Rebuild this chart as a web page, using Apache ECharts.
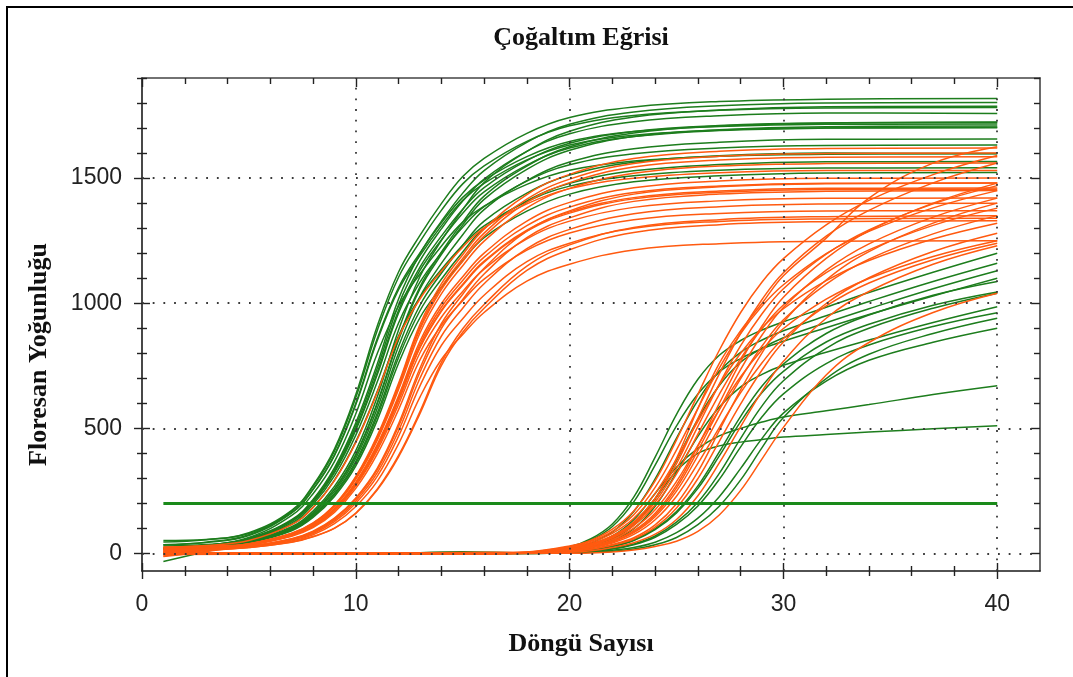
<!DOCTYPE html>
<html>
<head>
<meta charset="utf-8">
<title>Çoğaltım Eğrisi</title>
<script src="https://cdn.jsdelivr.net/npm/echarts@6/dist/echarts.min.js"></script>
<style>
  html, body { margin: 0; padding: 0; background: #fff; }
  #chart { width: 1073px; height: 677px; }
</style>
</head>
<body>
<div id="chart"></div>
<script>
// Cycle numbers at which each amplification curve is sampled
const EARLY_CYCLES = [1, 3, 5, 7, 8, 9, 10, 11, 12, 13, 14, 15, 16, 18, 20, 23, 27, 32, 40];
const LATE_CYCLES = [1, 6, 11, 15, 18, 20, 21, 22, 23, 24, 25, 26, 27, 28, 29, 30, 32, 34, 37, 40];

// Early-rising wells, green channel
const EARLY_GREEN = [
  [52, 56, 83, 172, 272, 417, 635, 908, 1125, 1271, 1398, 1506, 1579, 1679, 1742, 1784, 1806, 1815, 1818],
  [22, 32, 61, 135, 216, 342, 522, 756, 1017, 1197, 1327, 1440, 1530, 1643, 1715, 1764, 1789, 1800, 1802],
  [35, 45, 75, 169, 267, 409, 623, 890, 1104, 1246, 1371, 1477, 1549, 1647, 1709, 1750, 1771, 1780, 1782],
  [21, 32, 60, 132, 211, 334, 510, 739, 994, 1170, 1297, 1408, 1496, 1607, 1677, 1725, 1749, 1760, 1758],
  [-32, 8, 48, 129, 206, 327, 499, 722, 972, 1144, 1268, 1376, 1462, 1570, 1639, 1686, 1710, 1720, 1722],
  [46, 55, 80, 163, 257, 394, 600, 858, 1063, 1201, 1321, 1423, 1492, 1586, 1646, 1686, 1706, 1715, 1716],
  [19, 27, 48, 102, 162, 256, 392, 597, 853, 1057, 1194, 1313, 1415, 1535, 1611, 1666, 1693, 1705, 1708],
  [20, 31, 58, 128, 204, 323, 493, 714, 961, 1131, 1253, 1360, 1445, 1552, 1620, 1666, 1690, 1700, 1703],
  [18, 26, 46, 99, 157, 248, 381, 579, 828, 1026, 1159, 1274, 1374, 1490, 1564, 1617, 1643, 1655, 1656],
  [20, 29, 55, 122, 196, 310, 473, 685, 921, 1084, 1201, 1304, 1386, 1488, 1553, 1597, 1620, 1630, 1632],
  [30, 36, 50, 96, 152, 240, 368, 560, 800, 992, 1120, 1232, 1328, 1440, 1512, 1563, 1589, 1600, 1598],
  [19, 32, 64, 152, 239, 367, 558, 798, 989, 1117, 1228, 1324, 1388, 1475, 1531, 1568, 1587, 1595, 1597],
  [17, 25, 44, 94, 149, 235, 360, 548, 783, 970, 1096, 1205, 1299, 1409, 1479, 1529, 1554, 1565, 1566],
  [18, 28, 52, 116, 185, 293, 447, 647, 870, 1024, 1135, 1232, 1309, 1406, 1468, 1509, 1531, 1540, 1541],
  [17, 24, 43, 91, 144, 228, 350, 532, 760, 942, 1064, 1170, 1262, 1368, 1436, 1485, 1509, 1520, 1522],
  [19, 28, 48, 103, 163, 258, 396, 602, 860, 1066, 1204, 1324, 1428, 1548, 1625, 1680, 1708, 1720, 1724],
  [35, 44, 72, 162, 255, 391, 595, 850, 1054, 1190, 1309, 1411, 1479, 1573, 1632, 1671, 1692, 1700, 1701],
  [20, 29, 50, 107, 170, 268, 411, 625, 893, 1107, 1250, 1374, 1482, 1607, 1687, 1744, 1772, 1785, 1787]
];

// Early-rising wells, orange channel
const EARLY_ORANGE = [
  [5, 20, 39, 81, 122, 194, 308, 470, 680, 915, 1077, 1194, 1296, 1434, 1515, 1578, 1607, 1618, 1620],
  [20, 26, 38, 80, 120, 192, 304, 464, 672, 904, 1064, 1179, 1280, 1416, 1496, 1558, 1587, 1598, 1600],
  [-10, 14, 38, 79, 119, 190, 301, 460, 666, 896, 1054, 1168, 1268, 1403, 1482, 1544, 1572, 1583, 1585],
  [25, 30, 37, 78, 117, 187, 296, 452, 655, 881, 1037, 1150, 1248, 1381, 1459, 1519, 1548, 1558, 1560],
  [12, 21, 36, 75, 113, 180, 285, 435, 630, 848, 998, 1106, 1200, 1328, 1403, 1461, 1488, 1499, 1500],
  [-5, 14, 36, 74, 111, 178, 281, 429, 622, 836, 984, 1091, 1184, 1310, 1384, 1442, 1468, 1479, 1480],
  [8, 20, 35, 73, 110, 175, 277, 423, 613, 825, 971, 1076, 1168, 1292, 1365, 1422, 1448, 1459, 1460],
  [18, 20, 29, 58, 87, 138, 218, 334, 508, 725, 899, 1015, 1117, 1262, 1341, 1407, 1436, 1447, 1450],
  [0, 14, 34, 71, 107, 170, 270, 412, 596, 802, 944, 1047, 1136, 1257, 1328, 1383, 1409, 1419, 1420],
  [22, 22, 28, 56, 84, 133, 210, 322, 490, 700, 868, 980, 1078, 1218, 1295, 1358, 1386, 1397, 1400],
  [-12, 8, 33, 69, 103, 164, 260, 397, 575, 774, 911, 1010, 1096, 1212, 1281, 1334, 1359, 1369, 1370],
  [10, 16, 27, 54, 80, 127, 201, 308, 469, 670, 831, 938, 1032, 1166, 1240, 1300, 1327, 1337, 1340],
  [3, 12, 24, 45, 67, 100, 160, 253, 386, 559, 751, 884, 980, 1131, 1214, 1283, 1314, 1326, 1330],
  [15, 17, 25, 50, 75, 119, 188, 288, 438, 625, 775, 875, 963, 1088, 1156, 1213, 1238, 1248, 1250],
  [-2, 12, 30, 59, 89, 141, 222, 340, 518, 740, 918, 1036, 1140, 1288, 1369, 1436, 1465, 1477, 1480],
  [25, 32, 52, 115, 184, 291, 444, 643, 864, 1017, 1128, 1224, 1301, 1397, 1458, 1499, 1521, 1530, 1530],
  [6, 16, 35, 73, 109, 175, 276, 422, 611, 822, 968, 1072, 1164, 1288, 1360, 1417, 1443, 1454, 1455],
  [14, 16, 24, 46, 68, 101, 162, 257, 392, 567, 763, 898, 995, 1148, 1233, 1303, 1334, 1346, 1350]
];

// Late-rising wells, green channel
const LATE_GREEN = [
  [1, -2, 3, 0, 3, 27, 59, 118, 225, 385, 556, 696, 792, 851, 893, 926, 984, 1043, 1124, 1200],
  [-1, 2, 0, 1, 2, 17, 42, 86, 168, 298, 461, 612, 728, 804, 853, 890, 950, 1007, 1087, 1160],
  [2, 0, -2, 3, 1, 12, 26, 57, 114, 217, 372, 537, 671, 764, 820, 862, 922, 978, 1058, 1130],
  [0, 1, 2, -1, 3, 25, 54, 108, 206, 353, 510, 637, 725, 779, 818, 848, 902, 955, 1029, 1100],
  [-2, 0, 1, 2, 2, 7, 15, 28, 52, 95, 162, 260, 390, 527, 643, 728, 845, 916, 992, 1045],
  [1, 3, 0, -2, 1, 5, 10, 20, 38, 70, 125, 205, 320, 460, 590, 690, 820, 900, 980, 1040],
  [0, -1, 2, 1, 1, 5, 9, 18, 35, 65, 116, 190, 296, 426, 546, 638, 759, 833, 907, 962],
  [2, 0, -1, 0, 0, 3, 5, 9, 18, 35, 64, 115, 189, 294, 423, 543, 699, 796, 879, 940],
  [-1, 2, 1, 2, 0, 3, 6, 13, 24, 45, 83, 141, 227, 340, 460, 561, 689, 772, 844, 900],
  [0, 1, -1, 7, 2, 15, 35, 70, 135, 240, 345, 420, 470, 500, 525, 545, 570, 595, 635, 670],
  [1, -2, 2, 0, 2, 12, 28, 60, 120, 220, 330, 400, 430, 445, 455, 465, 475, 485, 498, 510],
  [0, 0, 2, 1, 2, 7, 16, 29, 54, 99, 168, 270, 406, 548, 669, 757, 879, 953, 1032, 1087],
  [-2, 1, 0, 1, 1, 11, 23, 50, 99, 189, 324, 468, 585, 666, 716, 752, 804, 853, 923, 986]
];

// Late-rising wells, orange channel
const LATE_ORANGE = [
  [2, -3, 1, 4, 5, 20, 38, 70, 125, 220, 380, 580, 760, 890, 1000, 1110, 1260, 1420, 1560, 1625],
  [-2, 1, 3, -1, 6, 30, 53, 97, 170, 290, 454, 636, 812, 963, 1085, 1178, 1313, 1411, 1514, 1590],
  [1, -2, 0, 2, 3, 20, 39, 70, 126, 219, 359, 539, 718, 881, 1015, 1122, 1268, 1371, 1481, 1560],
  [3, 0, -3, 1, 2, 13, 28, 50, 91, 161, 273, 429, 600, 767, 909, 1024, 1179, 1289, 1400, 1480],
  [-3, 2, 1, 0, 3, 19, 37, 66, 118, 206, 339, 508, 677, 831, 958, 1058, 1196, 1293, 1397, 1470],
  [0, -1, 2, -2, 5, 27, 49, 88, 155, 264, 414, 580, 741, 879, 989, 1074, 1198, 1287, 1381, 1450],
  [4, 1, -1, 2, 2, 12, 27, 48, 87, 154, 262, 412, 576, 736, 873, 983, 1132, 1237, 1344, 1420],
  [-1, 3, 0, 1, 1, 8, 18, 36, 63, 114, 199, 327, 491, 654, 802, 925, 1093, 1206, 1320, 1400],
  [2, 0, 2, -3, 3, 18, 35, 62, 111, 194, 318, 477, 636, 779, 899, 993, 1122, 1213, 1311, 1380],
  [-4, -2, 1, 0, 2, 12, 25, 46, 83, 147, 249, 391, 548, 699, 829, 934, 1076, 1176, 1277, 1350],
  [1, 2, -2, 3, 5, 25, 44, 80, 141, 240, 377, 528, 674, 800, 901, 978, 1090, 1171, 1257, 1320],
  [0, -3, 1, -1, 1, 7, 17, 33, 58, 105, 182, 299, 448, 598, 733, 845, 999, 1102, 1207, 1280],
  [3, 1, 0, 2, 3, 16, 31, 56, 101, 175, 288, 432, 575, 706, 814, 899, 1016, 1099, 1187, 1250],
  [-2, 0, 3, 1, 2, 11, 23, 42, 76, 135, 229, 360, 503, 643, 762, 859, 989, 1081, 1174, 1240],
  [1, -2, -1, 0, 1, 5, 11, 24, 43, 77, 136, 231, 362, 507, 648, 768, 940, 1047, 1156, 1230],
  [0, 2, 1, -2, 0, 1, 2, 6, 14, 28, 49, 88, 154, 252, 378, 504, 713, 843, 963, 1040]
];

// Threshold line and axis ticks
const THRESHOLD = 200;
const THRESHOLD_CYCLES = [1, 40];
const X_MAJOR = [0, 10, 20, 30, 40];
const X_MINOR = [2, 4, 6, 8, 12, 14, 16, 18, 22, 24, 26, 28, 32, 34, 36, 38];
const X_GRID = [10, 20, 30, 40];
const Y_MAJOR = [0, 500, 1000, 1500];
const Y_MINOR = [100, 200, 300, 400, 600, 700, 800, 900, 1100, 1200, 1300, 1400, 1600, 1700, 1800, 1900];
const Y_GRID = [0, 500, 1000, 1500];

const X_RANGE = [0, 42];
const Y_RANGE = [-70, 1900];

const GREEN = '#1d7d1d';
const ORANGE = '#ff5a10';
const SERIF = '"Liberation Serif", "Times New Roman", serif';
const SANS = '"Liberation Sans", Arial, sans-serif';

function plainNumber(v) { return String(v); }

function tickAxis(dim, position, values, inside, length, lineColor) {
  const range = dim === 'x' ? X_RANGE : Y_RANGE;
  return {
    type: 'value',
    position: position,
    min: range[0],
    max: range[1],
    axisLine: lineColor ? { show: true, onZero: false, lineStyle: { color: lineColor, width: 1.6 } } : { show: false, onZero: false },
    axisTick: { show: true, inside: inside, length: length, customValues: values, lineStyle: { color: '#222', width: 1.4 } },
    axisLabel: { show: false },
    splitLine: { show: false }
  };
}

const xMain = tickAxis('x', 'bottom', X_MAJOR, false, 8, '#1a1a1a');
xMain.axisLabel = { show: true, customValues: X_MAJOR, formatter: plainNumber, margin: 22, fontFamily: SANS, fontSize: 23, color: '#222' };
xMain.name = 'Döngü Sayısı';
xMain.nameLocation = 'middle';
xMain.nameGap = 60;
xMain.nameTextStyle = { fontFamily: SERIF, fontWeight: 'bold', fontSize: 26, color: '#111', padding: [0, 20, 0, 0] };

const yMain = tickAxis('y', 'left', Y_MAJOR, false, 8, '#1a1a1a');
yMain.axisLabel = { show: true, customValues: Y_MAJOR, formatter: plainNumber, margin: 20, fontFamily: SANS, fontSize: 23, color: '#222' };
yMain.name = 'Floresan Yoğunluğu';
yMain.nameLocation = 'middle';
yMain.nameGap = 90;
yMain.nameTextStyle = { fontFamily: SERIF, fontWeight: 'bold', fontSize: 26, color: '#111', padding: [0, 60, 0, 0] };

const xAxes = [
  xMain,
  tickAxis('x', 'bottom', X_MAJOR, true, 8),
  tickAxis('x', 'bottom', X_MINOR, false, 5),
  tickAxis('x', 'bottom', X_MINOR, true, 5),
  tickAxis('x', 'top', X_MAJOR, true, 9, '#444'),
  tickAxis('x', 'top', X_MINOR, true, 6)
];
const yAxes = [
  yMain,
  tickAxis('y', 'left', Y_MAJOR, true, 8),
  tickAxis('y', 'left', Y_MINOR, false, 5),
  tickAxis('y', 'left', Y_MINOR, true, 5),
  tickAxis('y', 'right', Y_MAJOR, true, 9, '#444'),
  tickAxis('y', 'right', Y_MINOR, true, 6)
];

function curveSeries(rows, cycles, color, z) {
  return rows.map(function (vals) {
    return {
      type: 'line',
      data: cycles.map(function (c, i) { return [c, vals[i]]; }),
      showSymbol: false,
      smooth: 0.4,
      silent: true,
      z: z,
      lineStyle: { color: color, width: 1.5 }
    };
  });
}

const gridLines = [];
X_GRID.forEach(function (v) { gridLines.push({ xAxis: v }); });
Y_GRID.forEach(function (v) { gridLines.push({ yAxis: v }); });

const series = [
  {
    type: 'line',
    data: [],
    silent: true,
    z: 1,
    markLine: {
      silent: true,
      symbol: 'none',
      label: { show: false },
      animation: false,
      lineStyle: { color: '#3a3a3a', width: 1.8, type: [1.8, 8.9], cap: 'butt' },
      data: gridLines
    }
  }
]
  .concat(curveSeries(EARLY_GREEN, EARLY_CYCLES, GREEN, 3))
  .concat(curveSeries(LATE_GREEN, LATE_CYCLES, GREEN, 3))
  .concat(curveSeries(EARLY_ORANGE, EARLY_CYCLES, ORANGE, 4))
  .concat(curveSeries(LATE_ORANGE, LATE_CYCLES, ORANGE, 4))
  .concat([{
    type: 'line',
    data: THRESHOLD_CYCLES.map(function (c) { return [c, THRESHOLD]; }),
    showSymbol: false,
    silent: true,
    z: 6,
    lineStyle: { color: '#1a8a1a', width: 3 }
  }]);

const chart = echarts.init(document.getElementById('chart'), null, { renderer: 'canvas' });
chart.setOption({
  animation: false,
  backgroundColor: '#ffffff',
  title: {
    text: 'Çoğaltım Eğrisi',
    left: 576,
    top: 20,
    textAlign: 'center',
    textStyle: { fontFamily: SERIF, fontWeight: 'bold', fontSize: 26, color: '#111' }
  },
  grid: { left: 142, right: 33, top: 78, bottom: 106, containLabel: false },
  xAxis: xAxes,
  yAxis: yAxes,
  graphic: [{
    type: 'rect',
    silent: true,
    z: 100,
    shape: { x: 7, y: 7, width: 1200, height: 1000 },
    style: { fill: 'none', stroke: '#000', lineWidth: 2 }
  }],
  series: series
});
</script>
</body>
</html>
